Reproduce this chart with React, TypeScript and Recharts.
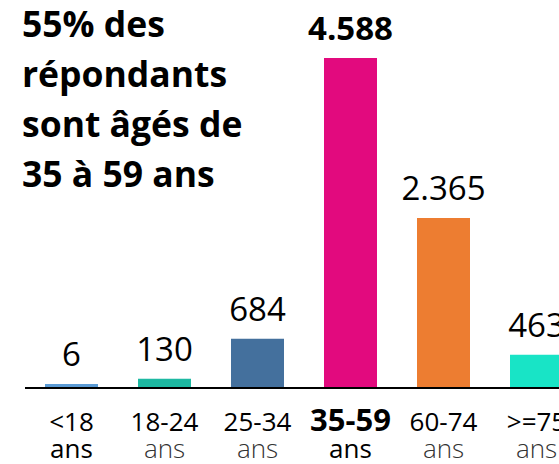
import { Bar, BarChart, Cell, LabelList, XAxis, YAxis } from "recharts";

const AGE_GROUPS = ["<18", "18-24", "25-34", "35-59", "60-74", ">=75"];
const RESPONDENTS = [6, 130, 684, 4588, 2365, 463];
const BAR_COLORS = ["#5B9BD5", "#1DB9A2", "#44709D", "#E20A7E", "#ED7D31", "#18E4C6"];
const TITLE_LINES = ["55% des", "répondants", "sont âgés de", "35 à 59 ans"];
const HIGHLIGHT = "35-59";

const data = AGE_GROUPS.map((group, i) => ({ group, value: RESPONDENTS[i] }));

const FONT = "'Open Sans', 'Noto Sans', sans-serif";

const fmt = (v: number) => String(v).replace(/\B(?=(\d{3})+(?!\d))/g, ".");

function ValueLabel(props: any) {
  const { x, y, width, value, index } = props;
  const bold = AGE_GROUPS[index] === HIGHLIGHT;
  return (
    <text
      x={x + width / 2}
      y={y - 18}
      textAnchor="middle"
      fontFamily={FONT}
      fontSize={33}
      fontWeight={bold ? 700 : 400}
      fill="#000"
    >
      {fmt(value)}
    </text>
  );
}

function AgeTick(props: any) {
  const { x, y, payload, index } = props;
  const bold = payload.value === HIGHLIGHT;
  const first = index === 0;
  return (
    <g>
      <text
        x={x}
        y={y + 37}
        textAnchor="middle"
        fontFamily={FONT}
        fontSize={bold ? 31 : 26}
        fontWeight={bold ? 700 : 400}
        fill="#000"
      >
        {payload.value}
      </text>
      <text
        x={x}
        y={y + 64}
        textAnchor="middle"
        fontFamily={FONT}
        fontSize={26}
        fontWeight={bold || first ? 500 : 300}
        fill={bold || first ? "#000" : "#333"}
      >
        ans
      </text>
    </g>
  );
}

export default function App() {
  return (
    <div
      style={{
        position: "fixed",
        left: 0,
        top: 0,
        width: 559,
        height: 464,
        overflow: "hidden",
        background: "#fff",
      }}
    >
      <BarChart
        width={600}
        height={464}
        data={data}
        margin={{ top: 58, right: 17, bottom: 0, left: 25 }}
        barCategoryGap={0}
      >
        <YAxis hide domain={[0, 4588]} />
        <XAxis
          dataKey="group"
          height={76}
          axisLine={{ stroke: "#000", strokeWidth: 2 }}
          tickLine={false}
          tickMargin={0}
          tick={<AgeTick />}
          interval={0}
        />
        <Bar dataKey="value" barSize={53} minPointSize={4} isAnimationActive={false}>
          {data.map((_, i) => (
            <Cell key={`c-${i}`} fill={BAR_COLORS[i]} />
          ))}
          <LabelList dataKey="value" content={<ValueLabel />} />
        </Bar>
      </BarChart>
      <svg
        width={280}
        height={210}
        style={{ position: "absolute", left: 0, top: 0, pointerEvents: "none" }}
      >
        {TITLE_LINES.map((line, i) => (
          <text
            key={line}
            x={22}
            y={37 + i * 50}
            fontFamily={FONT}
            fontSize={35.5}
            fontWeight={700}
            fill="#000"
          >
            {line}
          </text>
        ))}
      </svg>
    </div>
  );
}
